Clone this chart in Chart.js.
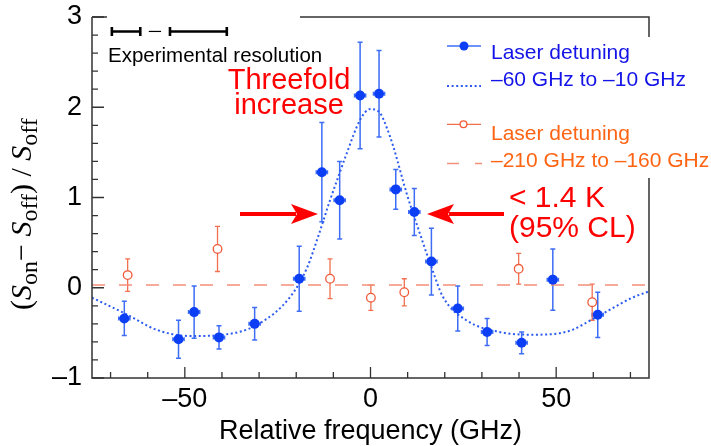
<!DOCTYPE html>
<html>
<head>
<meta charset="utf-8">
<script src="https://cdn.jsdelivr.net/npm/chart.js@4.4.1/dist/chart.umd.min.js"></script>
<style>
  body { margin: 0; background: #fff; }
</style>
</head>
<body>
<canvas id="myChart" width="711" height="446"></canvas>
<script>
// laser detuning -60 GHz to -10 GHz (filled blue)
const blueX = [-66.3, -51.7, -47.5, -40.8, -31.2, -19.2, -13.1, -8.3, -2.8, 2.3, 6.8, 11.8, 16.4, 23.5, 31.4, 40.7, 49.1, 61.2];
const blueY = [-0.34, -0.57, -0.27, -0.55, -0.40, 0.10, 1.28, 0.97, 2.13, 2.15, 1.09, 0.84, 0.29, -0.23, -0.49, -0.61, 0.09, -0.30];
const blueErr = [0.19, 0.21, 0.29, 0.13, 0.18, 0.36, 0.55, 0.43, 0.59, 0.48, 0.22, 0.26, 0.37, 0.25, 0.15, 0.12, 0.34, 0.25];
const blueXErr = 1.5;

// laser detuning -210 GHz to -160 GHz (open orange)
const orangeX = [-65.4, -41.2, -10.9, 0.1, 9.1, 39.9, 59.7];
const orangeY = [0.14, 0.43, 0.10, -0.11, -0.05, 0.21, -0.16];
const orangeErr = [0.18, 0.25, 0.22, 0.14, 0.15, 0.17, 0.20];

// fit curve
const fitX = [-75, -66.4, -57.3, -48.4, -39.5, -30.5, -21.6, -17.1, -14, -10.9, -8.5, -6.4, -2.8, -0.1, 2.5, 4.5, 6.1, 9.7, 13.3, 16.4, 19.5, 25.8, 34.7, 43.6, 52.6, 61.5, 70.5, 75];
const fitY = [-0.11, -0.28, -0.47, -0.535, -0.52, -0.41, -0.10, 0.22, 0.58, 0.97, 1.25, 1.49, 1.86, 1.98, 1.94, 1.76, 1.57, 1.05, 0.60, 0.23, -0.10, -0.36, -0.49, -0.52, -0.49, -0.31, -0.11, -0.04];

// flat reference level for the far detuning
const flatX = [-75, 75];
const flatY = [0.03, 0.03];

// axis ticks
const xTicks = [-70, -60, -50, -40, -30, -20, -10, 0, 10, 20, 30, 40, 50, 60, 70];
const xLabels = [-50, 0, 50];
const yTicks = [-1, -0.8, -0.6, -0.4, -0.2, 0, 0.2, 0.4, 0.6, 0.8, 1, 1.2, 1.4, 1.6, 1.8, 2, 2.2, 2.4, 2.6, 2.8, 3];
const yLabels = [-1, 0, 1, 2, 3];

// experimental resolution bars (GHz)
const resolutionBars = [[-69.65, -62.0], [-54.0, -38.7]];
const resolutionDash = [-59.7, -56.4];

const SANS = '"Liberation Sans", Arial, Helvetica, sans-serif';
const SERIF = '"Liberation Serif", "Times New Roman", serif';
const BLUE = "#0b3ef5";
const BLUE_ERR = "#3d6cf5";
const BLUE_FIT = "#2d5bf0";
const ORANGE = "#f05a3a";
const ORANGE_ERR = "#f2704f";
const ORANGE_FLAT = "#f3907a";
const RED = "#ff0000";

const fmt = (v) => (v < 0 ? "\u2013" + Math.abs(v) : String(v));
const toXY = (xs, ys) => xs.map((x, i) => ({ x: x, y: ys[i] }));
const near = (a, b) => Math.abs(a - b) < 1e-6;

function drawArrow(ctx, x0, x1, y) {
  const dir = Math.sign(x1 - x0);
  const base = x1 - dir * 26;
  ctx.strokeStyle = RED;
  ctx.fillStyle = RED;
  ctx.lineWidth = 4;
  ctx.beginPath();
  ctx.moveTo(x0, y);
  ctx.lineTo(base + dir * 4, y);
  ctx.stroke();
  ctx.beginPath();
  ctx.moveTo(x1, y);
  ctx.lineTo(base - dir * 1, y - 10);
  ctx.lineTo(base + dir * 5, y);
  ctx.lineTo(base - dir * 1, y + 10);
  ctx.closePath();
  ctx.fill();
}

function drawYTitle(ctx) {
  const m = 30, s = 24;
  const parts = [
    ["(", m, false, 0], ["S", m, true, 0], ["on", s, false, 6],
    ["\u2212 ", m, false, 0], ["S", m, true, 0], ["off", s, false, 6],
    [") / ", m, false, 0], ["S", m, true, 0], ["off", s, false, 6],
  ];
  ctx.save();
  ctx.translate(31, 310);
  ctx.rotate(-Math.PI / 2);
  ctx.fillStyle = "#000";
  ctx.textBaseline = "alphabetic";
  ctx.textAlign = "left";
  let x = 0;
  parts.forEach(([t, size, it, dy]) => {
    ctx.font = (it ? "italic " : "") + size + "px " + SERIF;
    ctx.fillText(t, x, dy);
    x += ctx.measureText(t).width;
  });
  ctx.restore();
}

const decor = {
  id: "decor",
  beforeDatasetsDraw(chart) {
    const ctx = chart.ctx;
    const xs = chart.scales.x, ys = chart.scales.y;
    ctx.save();
    // blue error bars
    ctx.strokeStyle = BLUE_ERR;
    ctx.lineWidth = 1.5;
    blueX.forEach((x, i) => {
      const px = xs.getPixelForValue(x);
      const y0 = ys.getPixelForValue(blueY[i] - blueErr[i]);
      const y1 = ys.getPixelForValue(blueY[i] + blueErr[i]);
      const py = ys.getPixelForValue(blueY[i]);
      const xl = xs.getPixelForValue(x - blueXErr);
      const xr = xs.getPixelForValue(x + blueXErr);
      ctx.beginPath();
      ctx.moveTo(px, y0); ctx.lineTo(px, y1);
      ctx.moveTo(px - 2.5, y0); ctx.lineTo(px + 2.5, y0);
      ctx.moveTo(px - 2.5, y1); ctx.lineTo(px + 2.5, y1);
      ctx.moveTo(xl, py); ctx.lineTo(xr, py);
      ctx.moveTo(xl, py - 2); ctx.lineTo(xl, py + 2);
      ctx.moveTo(xr, py - 2); ctx.lineTo(xr, py + 2);
      ctx.stroke();
    });
    // orange error bars
    ctx.strokeStyle = ORANGE_ERR;
    ctx.lineWidth = 1.3;
    orangeX.forEach((x, i) => {
      const px = xs.getPixelForValue(x);
      const y0 = ys.getPixelForValue(orangeY[i] - orangeErr[i]);
      const y1 = ys.getPixelForValue(orangeY[i] + orangeErr[i]);
      ctx.beginPath();
      ctx.moveTo(px, y0); ctx.lineTo(px, y1);
      ctx.moveTo(px - 2.5, y0); ctx.lineTo(px + 2.5, y0);
      ctx.moveTo(px - 2.5, y1); ctx.lineTo(px + 2.5, y1);
      ctx.stroke();
    });
    ctx.restore();
  },
  afterDraw(chart) {
    const ctx = chart.ctx;
    const a = chart.chartArea;
    const xs = chart.scales.x, ys = chart.scales.y;
    ctx.save();

    // frame (partly hidden behind the text boxes, as in the original)
    ctx.strokeStyle = "#333";
    ctx.lineWidth = 1.5;
    ctx.beginPath();
    ctx.moveTo(a.left, a.top); ctx.lineTo(a.left, a.bottom); ctx.lineTo(a.right, a.bottom);
    ctx.lineTo(a.right, 178);
    ctx.moveTo(a.right, 37); ctx.lineTo(a.right, a.top); ctx.lineTo(300, a.top);
    ctx.moveTo(107, a.top); ctx.lineTo(a.left, a.top);
    ctx.stroke();

    // inward ticks
    ctx.lineWidth = 1.3;
    ctx.beginPath();
    xs.ticks.forEach((t) => {
      const px = xs.getPixelForValue(t.value);
      const len = xLabels.some((v) => near(v, t.value)) ? 11 : 6;
      ctx.moveTo(px, a.bottom); ctx.lineTo(px, a.bottom - len);
    });
    ys.ticks.forEach((t) => {
      const py = ys.getPixelForValue(t.value);
      const len = yLabels.some((v) => near(v, t.value)) ? 12 : 6;
      ctx.moveTo(a.left, py); ctx.lineTo(a.left + len, py);
    });
    ctx.stroke();

    drawYTitle(ctx);

    // experimental resolution
    const ry = ys.getPixelForValue(2.84);
    ctx.strokeStyle = "#000";
    ctx.lineWidth = 2.6;
    resolutionBars.forEach(([x0, x1]) => {
      const p0 = xs.getPixelForValue(x0), p1 = xs.getPixelForValue(x1);
      ctx.beginPath();
      ctx.moveTo(p0, ry); ctx.lineTo(p1, ry);
      ctx.moveTo(p0, ry - 4.5); ctx.lineTo(p0, ry + 4.5);
      ctx.moveTo(p1, ry - 4.5); ctx.lineTo(p1, ry + 4.5);
      ctx.stroke();
    });
    ctx.lineWidth = 1.2;
    ctx.beginPath();
    ctx.moveTo(xs.getPixelForValue(resolutionDash[0]), ry);
    ctx.lineTo(xs.getPixelForValue(resolutionDash[1]), ry);
    ctx.stroke();
    ctx.fillStyle = "#000";
    ctx.font = "20.5px " + SANS;
    ctx.textBaseline = "alphabetic";
    ctx.textAlign = "left";
    ctx.fillText("Experimental resolution", 108, 61.5);

    // red annotations
    ctx.fillStyle = RED;
    ctx.font = "29px " + SANS;
    ctx.textAlign = "center";
    ctx.fillText("Threefold", 289, 89);
    ctx.fillText("increase", 289, 114);
    ctx.font = "30px " + SANS;
    ctx.textAlign = "left";
    ctx.fillText("< 1.4 K", 509, 207);
    ctx.fillText("(95% CL)", 509, 237);
    drawArrow(ctx, 240, 318, 214);
    drawArrow(ctx, 504, 427, 214);

    // legend
    ctx.font = "21px " + SANS;
    ctx.fillStyle = "#1414e8";
    ctx.fillText("Laser detuning", 491, 59);
    ctx.fillText("\u201360 GHz to \u201310 GHz", 491, 86);
    ctx.fillStyle = "#ff6414";
    ctx.fillText("Laser detuning", 491, 140);
    ctx.fillText("\u2013210 GHz to \u2013160 GHz", 491, 166.5);

    ctx.strokeStyle = BLUE_ERR;
    ctx.lineWidth = 1.4;
    ctx.beginPath(); ctx.moveTo(447, 46); ctx.lineTo(481, 46); ctx.stroke();
    ctx.fillStyle = BLUE;
    ctx.beginPath(); ctx.arc(464, 46, 4.5, 0, Math.PI * 2); ctx.fill();

    ctx.strokeStyle = BLUE_FIT;
    ctx.lineWidth = 2;
    ctx.setLineDash([2, 2.6]);
    ctx.beginPath(); ctx.moveTo(447, 86); ctx.lineTo(481, 86); ctx.stroke();

    ctx.strokeStyle = ORANGE_FLAT;
    ctx.lineWidth = 1.6;
    ctx.setLineDash([12, 16]);
    ctx.beginPath(); ctx.moveTo(447, 163.5); ctx.lineTo(482, 163.5); ctx.stroke();
    ctx.setLineDash([]);

    ctx.strokeStyle = ORANGE_ERR;
    ctx.lineWidth = 1.3;
    ctx.beginPath(); ctx.moveTo(447, 124.3); ctx.lineTo(481, 124.3); ctx.stroke();
    ctx.fillStyle = "#fff";
    ctx.strokeStyle = ORANGE;
    ctx.beginPath(); ctx.arc(463.5, 124.3, 3.4, 0, Math.PI * 2); ctx.fill(); ctx.stroke();

    ctx.restore();
  },
};

const ctx = document.getElementById("myChart").getContext("2d");

const myChart = new Chart(ctx, {
  type: "scatter",
  data: {
    datasets: [
      {
        label: "fit",
        data: toXY(fitX, fitY),
        showLine: true,
        borderColor: BLUE_FIT,
        borderWidth: 2,
        borderDash: [2, 2.6],
        pointRadius: 0,
        cubicInterpolationMode: "monotone",
        fill: false,
        order: 3,
      },
      {
        label: "flat",
        data: toXY(flatX, flatY),
        showLine: true,
        borderColor: ORANGE_FLAT,
        borderWidth: 1.6,
        borderDash: [13, 14],
        pointRadius: 0,
        fill: false,
        order: 4,
      },
      {
        label: "Laser detuning -210 GHz to -160 GHz",
        data: toXY(orangeX, orangeY),
        backgroundColor: "#fff",
        borderColor: ORANGE,
        borderWidth: 1.3,
        pointRadius: 4.3,
        order: 2,
      },
      {
        label: "Laser detuning -60 GHz to -10 GHz",
        data: toXY(blueX, blueY),
        backgroundColor: BLUE,
        borderWidth: 0,
        pointRadius: 5,
        order: 1,
      },
    ],
  },
  options: {
    responsive: false,
    animation: false,
    layout: { padding: { top: 17, right: 62, left: 0, bottom: 0 } },
    scales: {
      x: {
        type: "linear",
        min: -75,
        max: 75,
        grid: { display: false, drawTicks: false },
        border: { display: false },
        afterBuildTicks: (scale) => {
          scale.ticks = xTicks.map((v) => ({ value: v }));
        },
        afterFit: (scale) => {
          scale.height = 68;
          scale.paddingLeft = 0;
          scale.paddingRight = 0;
        },
        ticks: {
          autoSkip: false,
          maxRotation: 0,
          padding: 5,
          color: "#000",
          font: { size: 27, family: SANS },
          callback: (v) => (xLabels.some((l) => near(l, v)) ? fmt(v) : ""),
        },
        title: {
          display: true,
          text: "Relative frequency (GHz)",
          color: "#000",
          font: { size: 27, family: SANS, lineHeight: 1 },
          padding: { top: 0, bottom: 1 },
        },
      },
      y: {
        min: -1,
        max: 3,
        grid: { display: false, drawTicks: false },
        border: { display: false },
        afterBuildTicks: (scale) => {
          scale.ticks = yTicks.map((v) => ({ value: v }));
        },
        afterFit: (scale) => {
          scale.width = 92;
          scale.paddingTop = 0;
          scale.paddingBottom = 0;
        },
        ticks: {
          autoSkip: false,
          padding: 10,
          color: "#000",
          font: { size: 27, family: SANS },
          callback: (v) => (yLabels.some((l) => near(l, v)) ? fmt(Math.round(v)) : ""),
        },
      },
    },
    plugins: {
      legend: { display: false },
      tooltip: { enabled: false },
    },
  },
  plugins: [decor],
});
</script>
</body>
</html>
